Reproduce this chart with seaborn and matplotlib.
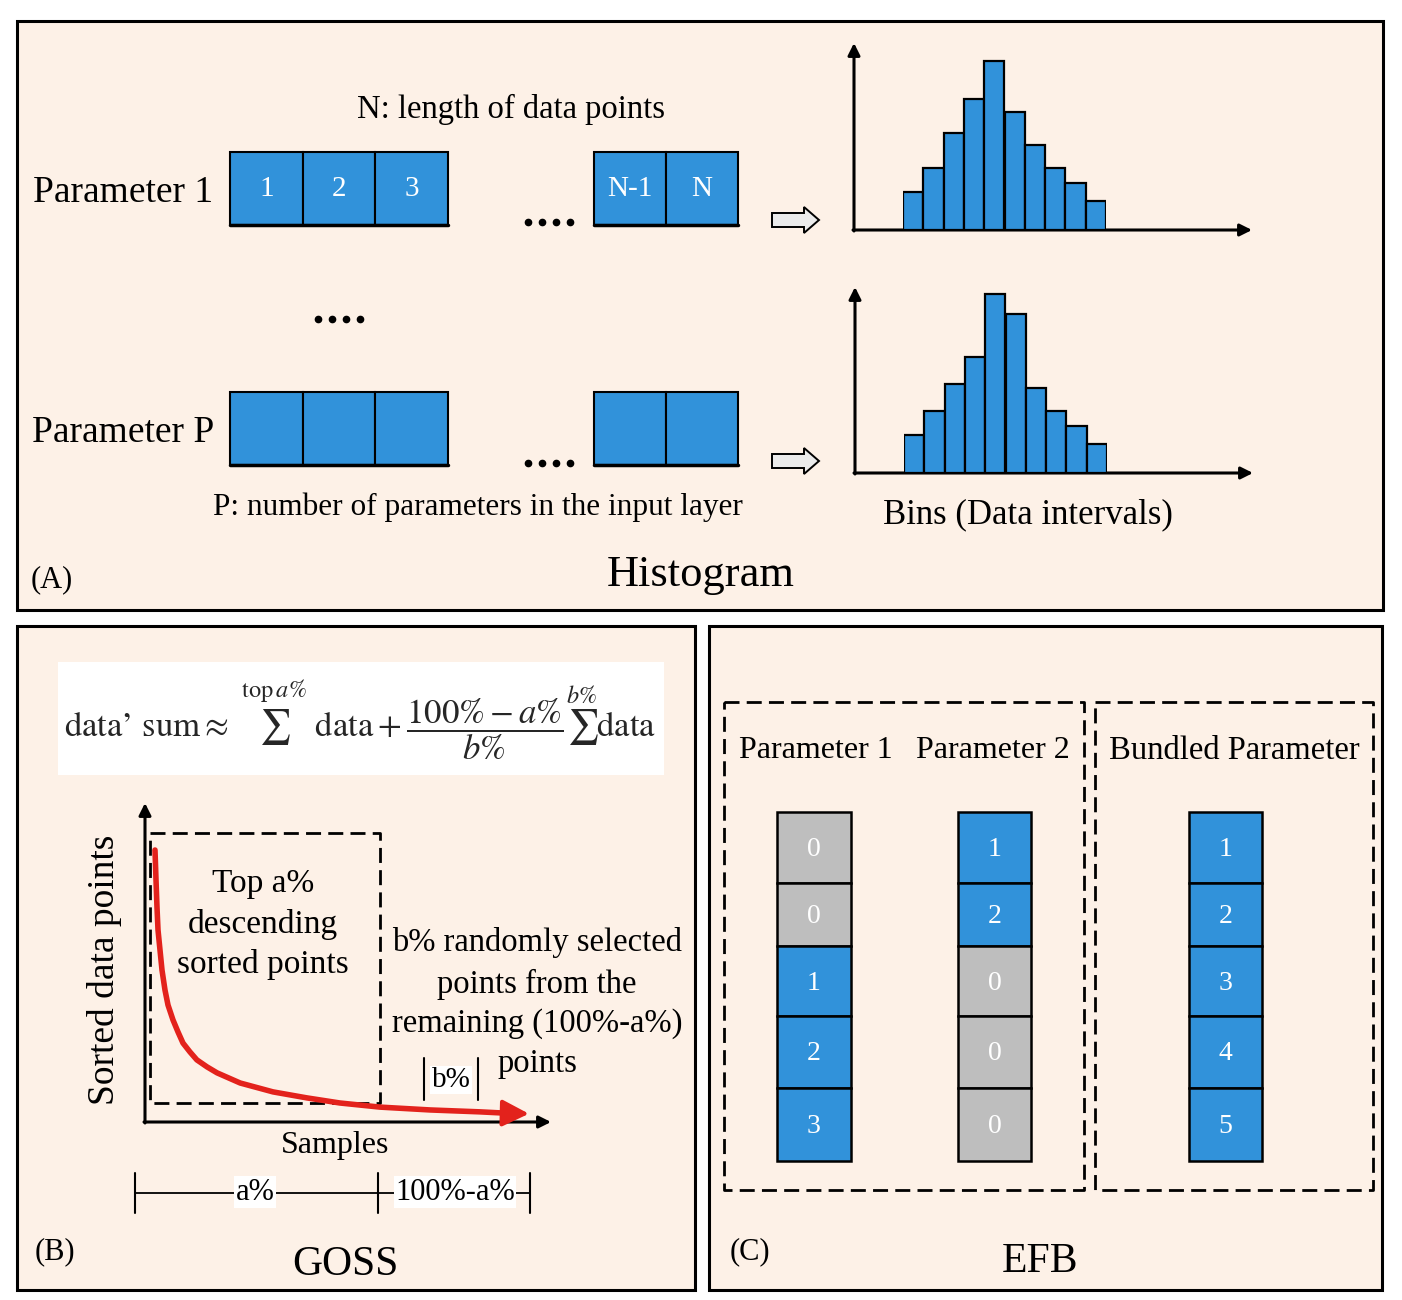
import numpy as np
import pandas as pd
import matplotlib
matplotlib.use("Agg")
import matplotlib.pyplot as plt
import matplotlib.patches as mpatches
import seaborn as sns

# ------------------------------------------------------------------ data
hist_bins = list(range(1, 11))
hist_param1 = [38, 62, 97, 131, 169, 118, 85, 62, 47, 29]
hist_paramP = [38, 62, 89, 116, 179, 159, 85, 62, 47, 29]

param1_cells = ["1", "2", "3", "N-1", "N"]
paramP_cells = ["", "", "", "", ""]

goss_samples = [2.47, 2.72, 2.96, 3.21, 3.70, 4.20, 4.94, 5.68, 6.91, 8.15, 9.38, 11.1,
                12.8, 15.3, 17.8, 23.5, 31.6, 40.0, 48.1, 58.0, 70.4, 82.7, 88.9]
goss_values = [85.8, 76.3, 67.8, 60.6, 54.3, 47.9, 41.6, 36.9, 32.2, 28.4, 24.9, 22.1,
               19.6, 17.4, 15.5, 12.3, 9.5, 7.6, 6.0, 4.7, 3.8, 3.2, 2.8]

efb_param1 = [0, 0, 1, 2, 3]
efb_param2 = [1, 2, 0, 0, 0]
efb_bundled = [1, 2, 3, 4, 5]

# ------------------------------------------------------------------ style
sns.set_theme(style="white")
SERIF = ["Liberation Serif", "DejaVu Serif"]
plt.rcParams["font.family"] = SERIF
BG = "#FDF1E7"
BLUE = "#3192DA"
GRAY = "#BEBEBE"
RED = "#E3221C"

W, H = 1402, 1300
fig = plt.figure(figsize=(W / 100, H / 100), dpi=100)
fig.patch.set_facecolor("white")
ax = fig.add_axes([0, 0, 1, 1])
ax.set_xlim(0, W)
ax.set_ylim(H, 0)
ax.axis("off")


def px_axes(x0, y0, x1, y1):
    a = fig.add_axes([x0 / W, 1 - y1 / H, (x1 - x0) / W, (y1 - y0) / H])
    a.patch.set_alpha(0)
    return a


def T(x, y, s, size, ha="center", va="center", color="black", **kw):
    ax.text(x, y, s, fontsize=size, ha=ha, va=va, color=color, family=SERIF, **kw)


def rect(x0, y0, x1, y1, fc, ec="black", lw=1.5, z=2, **kw):
    ax.add_patch(mpatches.Rectangle((x0, y0), x1 - x0, y1 - y0, facecolor=fc,
                                    edgecolor=ec, linewidth=lw, zorder=z, **kw))


def arrow_line(x0, y0, x1, y1, color="black", lw=2.2, ms=20):
    ax.annotate("", xy=(x1, y1), xytext=(x0, y0),
                arrowprops=dict(arrowstyle="-|>", color=color, lw=lw,
                                mutation_scale=ms, shrinkA=0, shrinkB=0), zorder=5)


# ------------------------------------------------------------------ panels
rect(17, 21, 1383, 610, BG, lw=2.2, z=0)
rect(17, 626, 695, 1290, BG, lw=2.2, z=0)
rect(709, 626, 1382, 1290, BG, lw=2.2, z=0)

# ------------------------------------------------------------------ panel A
T(511, 109, "N: length of data points", 23.5)
T(123, 193, "Parameter 1", 27)
T(123, 433, "Parameter P", 27)


def block_row(ytop, ybot, labels):
    edges = [(230, 303), (303, 375), (375, 448), (594, 666), (666, 738)]
    for (x0, x1), lab in zip(edges, labels):
        rect(x0, ytop, x1, ybot, BLUE, lw=1.5)
        if lab:
            T((x0 + x1) / 2, (ytop + ybot) / 2 + 1, lab, 21, color="white")
    ax.plot([230, 448], [ybot, ybot], color="black", lw=2.5, zorder=3)
    ax.plot([594, 738], [ybot, ybot], color="black", lw=2.5, zorder=3)


block_row(152, 225, param1_cells)
block_row(392, 465, paramP_cells)

for yy in (222, 463):
    ax.plot([528, 542, 556, 570], [yy] * 4, "o", ms=4.5, color="black", zorder=4)
ax.plot([318, 332, 346, 360], [319] * 4, "o", ms=4.5, color="black", zorder=4)

for yy in (220, 461):
    ax.add_patch(mpatches.FancyArrow(772, yy, 47, 0, width=14, head_width=26,
                                     head_length=15, length_includes_head=True,
                                     facecolor="#EBEBEB", edgecolor="black",
                                     linewidth=1.4, zorder=4))

T(478, 507, "P: number of parameters in the input layer", 22.5)
T(1028, 515, "Bins (Data intervals)", 25)
T(52, 580, "(A)", 22)
T(701, 575, "Histogram", 32)


def histogram(x_axis, base, top, xend, bar_x0, bar_x1, values):
    arrow_line(x_axis, base + 1, x_axis, top, ms=18)
    arrow_line(x_axis - 1, base, xend, base, ms=18)
    ah = px_axes(bar_x0, top, bar_x1, base)
    df = pd.DataFrame({"bin": hist_bins, "count": values})
    sns.barplot(data=df, x="bin", y="count", ax=ah, color=BLUE, saturation=1,
                edgecolor="black", linewidth=1.6, width=1.0, errorbar=None)
    ah.set_xlim(-0.5, 9.5)
    ah.set_ylim(0, base - top)
    ah.axis("off")


histogram(854, 230, 43, 1252, 903, 1106, hist_param1)
histogram(855, 473, 287, 1253, 904, 1107, hist_paramP)

# ------------------------------------------------------------------ panel B
rect(58, 662, 664, 775, "white", ec="none", lw=0, z=1)
formula = (r"$\mathrm{data" + "\u2019" + r"\ sum}\approx\ \sum^{\mathrm{top}\,a\%}\ \mathrm{data}+"
           r"\dfrac{100\%-a\%}{b\%}\sum^{b\%}\mathrm{data}$")
ax.text(360, 720, formula, fontsize=25, ha="center", va="center",
        math_fontfamily="stix", zorder=3)

# axes of GOSS plot
arrow_line(145, 1123, 145, 803, ms=18)
arrow_line(144, 1122, 551, 1122, ms=18)
T(104, 970, "Sorted data points", 27, rotation=90)
T(335, 1146, "Samples", 23)

# dashed box
dash = (0, (5.4, 2.6))
ax.plot([150, 380, 380, 150, 150], [833, 833, 1103, 1103, 833], color="black",
        lw=2, linestyle=dash, zorder=3)

axg = px_axes(145, 805, 550, 1122)
sns.lineplot(x=goss_samples, y=goss_values, ax=axg, color=RED, linewidth=4,
             estimator=None, sort=False)
axg.annotate("", xy=(94.8, 2.6), xytext=(88.5, 2.8),
             arrowprops=dict(arrowstyle="-|>,head_length=0.9,head_width=0.45",
                             color=RED, lw=3, mutation_scale=18,
                             shrinkA=0, shrinkB=0))
axg.set_xlim(0, 100)
axg.set_ylim(0, 100)
axg.axis("off")

T(263, 884, "Top a%", 24)
T(263, 924, "descending", 24)
T(263, 964, "sorted points", 24)
T(537, 943, "b% randomly selected", 23.5)
T(537, 984, "points from the", 23.5)
T(537, 1024, "remaining (100%-a%)", 23.5)
T(537, 1064, "points", 23.5)

ax.plot([424, 424], [1058, 1100], color="black", lw=1.5)
ax.plot([478, 478], [1058, 1100], color="black", lw=1.5)
T(451, 1080, "b%", 21, bbox=dict(facecolor="white", edgecolor="none", pad=1))

ax.plot([135, 530], [1193, 1193], color="black", lw=1.3)
for xx in (135, 378, 530):
    ax.plot([xx, xx], [1173, 1213], color="black", lw=1.5)
T(255, 1192, "a%", 22, bbox=dict(facecolor="white", edgecolor="none", pad=1))
T(455, 1192, "100%-a%", 22, bbox=dict(facecolor="white", edgecolor="none", pad=1))

T(55, 1252, "(B)", 22)
T(345, 1265, "GOSS", 30)

# ------------------------------------------------------------------ panel C
ax.plot([724, 1084, 1084, 724, 724], [702, 702, 1190, 1190, 702], color="black",
        lw=2, linestyle=dash, zorder=3)
ax.plot([1095, 1373, 1373, 1095, 1095], [702, 702, 1190, 1190, 702], color="black",
        lw=2, linestyle=dash, zorder=3)
T(816, 751, "Parameter 1", 23)
T(993, 751, "Parameter 2", 23)
T(1234, 751, "Bundled Parameter", 23.5)

row_edges = [812, 883, 946, 1016, 1088, 1161]
for (x0, x1), col in zip([(777, 851), (958, 1031), (1189, 1262)],
                         [efb_param1, efb_param2, efb_bundled]):
    for i, v in enumerate(col):
        y0, y1 = row_edges[i], row_edges[i + 1]
        rect(x0, y0, x1, y1, GRAY if v == 0 else BLUE, lw=1.8)
        T((x0 + x1) / 2, (y0 + y1) / 2 + 2, str(v), 20, color="white")

T(750, 1252, "(C)", 22)
T(1040, 1262, "EFB", 30)

fig.savefig("out.png", dpi=100, facecolor="white")
